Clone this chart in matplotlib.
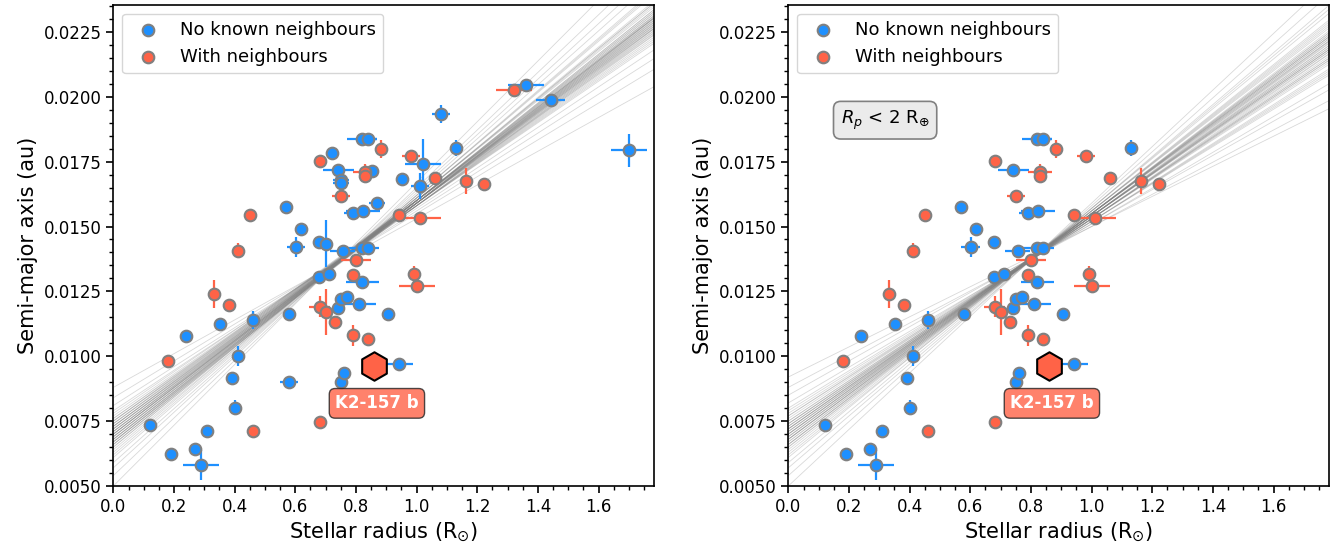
import matplotlib
matplotlib.use("Agg")
import matplotlib.pyplot as plt
import numpy as np
from matplotlib.ticker import MultipleLocator, FormatStrFormatter

# stars without known neighbours: radius, semi-major axis, errors, small planet (Rp < 2 Re)
blue_r = [0.819, 0.841, 0.721, 0.742, 0.852, 0.751, 0.751, 0.870, 0.791, 0.822,
          0.570, 0.620, 0.601, 0.679, 0.701, 0.756, 0.821, 0.841, 0.679, 0.711,
          1.361, 1.442, 1.081, 1.701, 1.131, 1.020, 0.951, 1.011, 0.351, 0.460,
          0.241, 0.580, 0.411, 0.391, 0.580, 0.400, 0.120, 0.309, 0.189, 0.270,
          0.290, 0.752, 0.762, 0.740, 0.752, 0.771, 0.810, 0.821, 0.907, 0.942]
blue_a = [0.01836, 0.01836, 0.01784, 0.01718, 0.01715, 0.01680, 0.01669, 0.01592, 0.01553, 0.01561,
          0.01577, 0.01492, 0.01421, 0.01442, 0.01434, 0.01407, 0.01419, 0.01419, 0.01307, 0.01316,
          0.02046, 0.01987, 0.01935, 0.01794, 0.01802, 0.01742, 0.01682, 0.01655, 0.01123, 0.01140,
          0.01079, 0.01162, 0.01001, 0.00916, 0.00902, 0.00802, 0.00735, 0.00711, 0.00625, 0.00641,
          0.00582, 0.00902, 0.00937, 0.01187, 0.01221, 0.01230, 0.01200, 0.01286, 0.01162, 0.00970]
blue_rerr = [0.05, 0.03, 0, 0.05, 0, 0.027, 0.027, 0.027, 0.03, 0.056,
             0, 0, 0.03, 0, 0, 0.04, 0.056, 0, 0, 0,
             0.06, 0.048, 0.03, 0.06, 0, 0.059, 0, 0.03, 0, 0,
             0, 0, 0, 0, 0.03, 0, 0, 0, 0, 0,
             0.059, 0, 0, 0, 0.02, 0.02, 0.055, 0.055, 0, 0.047]
blue_aerr = [0, 0, 0, 0, 0, 0, 0, 0, 0, 0,
             0, 0, 0.0004, 0, 0.0009, 0, 0, 0, 0, 0,
             0, 0, 0.00035, 0.00064, 0.0003, 0.00095, 0, 0.0005, 0, 0.00035,
             0, 0, 0.0004, 0, 0, 0.0003, 0, 0, 0, 0,
             0.00058, 0, 0, 0, 0, 0, 0, 0, 0, 0]
blue_small = [1, 1, 0, 1, 0, 0, 0, 0, 1, 1,
              1, 1, 1, 1, 0, 1, 1, 1, 1, 1,
              0, 0, 0, 0, 1, 0, 0, 0, 1, 1,
              1, 1, 1, 1, 0, 1, 1, 1, 1, 1,
              1, 1, 1, 1, 1, 1, 1, 1, 1, 1]

# stars with neighbours
red_r = [0.882, 0.680, 0.830, 0.830, 0.751, 0.451, 0.410, 0.800, 0.791, 1.321,
         0.981, 1.061, 1.162, 1.222, 0.942, 1.011, 0.991, 1.002, 0.331, 0.380,
         0.180, 0.460, 0.680, 0.791, 0.841, 0.732, 0.680, 0.701]
red_a = [0.01798, 0.01753, 0.01710, 0.01695, 0.01619, 0.01546, 0.01407, 0.01371, 0.01313, 0.02025,
         0.01772, 0.01687, 0.01676, 0.01663, 0.01546, 0.01533, 0.01316, 0.01272, 0.01240, 0.01197,
         0.00981, 0.00711, 0.00748, 0.01081, 0.01065, 0.01131, 0.01191, 0.01170]
red_rerr = [0, 0, 0.04, 0, 0.03, 0, 0, 0.05, 0, 0.06,
            0.03, 0, 0, 0, 0, 0.07, 0, 0.06, 0, 0,
            0, 0, 0, 0, 0, 0, 0.036, 0]
red_aerr = [0.00035, 0, 0.0003, 0, 0, 0, 0.00028, 0, 0, 0,
            0.0002, 0, 0.0005, 0, 0, 0, 0.0003, 0, 0.00055, 0.00025,
            0, 0.0002, 0, 0.0004, 0, 0, 0.0004, 0.0009]
red_small = [1, 1, 1, 1, 1, 1, 1, 1, 1, 0,
             1, 1, 1, 1, 1, 1, 1, 1, 1, 1,
             1, 1, 1, 1, 1, 1, 1, 1]

# K2-157 b
k2_r = 0.860
k2_a = 0.00963

# linear fit samples (intercept, slope) for all planets
fit_all_b = [0.0088, 0.0084, 0.0081, 0.0079, 0.0078, 0.0077, 0.0076, 0.0075, 0.0075, 0.0074,
             0.0074, 0.0073, 0.0073, 0.0072, 0.0072, 0.0071, 0.0071, 0.0070, 0.0070, 0.0069,
             0.0069, 0.0068, 0.0068, 0.0067, 0.0067, 0.0066, 0.0066, 0.0065, 0.0064, 0.0063,
             0.0062, 0.0061, 0.0059, 0.0057, 0.0054, 0.0050,
             0.0076, 0.0075, 0.0074, 0.0073, 0.0072, 0.0071, 0.0070, 0.0069, 0.0068, 0.0067,
             0.0066, 0.0065, 0.0072, 0.0070, 0.0069, 0.0068, 0.0071, 0.0073, 0.0067, 0.0070]
fit_all_m = [0.0065, 0.0071, 0.0075, 0.0078, 0.0080, 0.0081, 0.0082, 0.0084, 0.0083, 0.0085,
             0.0084, 0.0086, 0.0085, 0.0087, 0.0086, 0.0088, 0.0087, 0.0089, 0.0090, 0.0090,
             0.0091, 0.0092, 0.0091, 0.0093, 0.0094, 0.0095, 0.0094, 0.0096, 0.0097, 0.0099,
             0.0100, 0.0101, 0.0104, 0.0107, 0.0111, 0.0117,
             0.0083, 0.0085, 0.0086, 0.0087, 0.0088, 0.0089, 0.0090, 0.0091, 0.0092, 0.0093,
             0.0094, 0.0096, 0.0087, 0.0089, 0.0090, 0.0091, 0.0088, 0.0086, 0.0092, 0.0090]
# fit samples for Rp < 2 Re only
fit_small_b = [0.0092, 0.0088, 0.0085, 0.0082, 0.0080, 0.0079, 0.0078, 0.0077, 0.0076, 0.0075,
               0.0074, 0.0074, 0.0073, 0.0072, 0.0072, 0.0071, 0.0070, 0.0070, 0.0069, 0.0068,
               0.0068, 0.0067, 0.0066, 0.0066, 0.0065, 0.0064, 0.0063, 0.0062, 0.0061, 0.0059,
               0.0057, 0.0054, 0.0050,
               0.0077, 0.0075, 0.0074, 0.0073, 0.0072, 0.0071, 0.0070, 0.0069, 0.0068, 0.0067,
               0.0066, 0.0065, 0.0071, 0.0070, 0.0069, 0.0073, 0.0068, 0.0072]
fit_small_m = [0.0058, 0.0062, 0.0066, 0.0069, 0.0072, 0.0073, 0.0074, 0.0075, 0.0077, 0.0078,
               0.0079, 0.0080, 0.0080, 0.0082, 0.0081, 0.0083, 0.0084, 0.0085, 0.0085, 0.0087,
               0.0086, 0.0088, 0.0089, 0.0090, 0.0090, 0.0092, 0.0093, 0.0094, 0.0096, 0.0098,
               0.0100, 0.0104, 0.0109,
               0.0076, 0.0078, 0.0079, 0.0081, 0.0082, 0.0083, 0.0084, 0.0086, 0.0087, 0.0088,
               0.0089, 0.0091, 0.0084, 0.0085, 0.0086, 0.0081, 0.0087, 0.0082]

blue_c = '#1E90FF'
red_c = '#FF6347'


def draw_panel(ax, fit_b, fit_m, only_small):
    for b, m in zip(fit_b, fit_m):
        ax.axline((0, b), slope=m, color='grey', lw=0.6, alpha=0.3, zorder=1)

    groups = [(blue_r, blue_a, blue_rerr, blue_aerr, blue_small, blue_c, 'No known neighbours'),
              (red_r, red_a, red_rerr, red_aerr, red_small, red_c, 'With neighbours')]
    for r, a, re, ae, sm, col, lab in groups:
        keep = np.array(sm, dtype=bool) if only_small else np.ones(len(r), dtype=bool)
        r = np.array(r)[keep]
        a = np.array(a)[keep]
        re = np.array(re)[keep]
        ae = np.array(ae)[keep]
        ax.errorbar(r, a, xerr=re, yerr=ae, fmt='none', ecolor=col, elinewidth=1.6,
                    capsize=0, zorder=2)
        ax.scatter(r, a, s=70, color=col, edgecolor='grey', linewidth=1.5, zorder=3, label=lab)

    ax.scatter([k2_r], [k2_a], marker='h', s=420, color=red_c, edgecolor='black',
               linewidth=1.5, zorder=4)
    ax.annotate('K2-157 b', xy=(k2_r, k2_a), xytext=(2, -27), textcoords='offset points',
                ha='center', va='center', fontsize=12, fontweight='bold', color='white',
                bbox=dict(boxstyle='round,pad=0.35', fc=red_c, alpha=0.8, ec='#222222', lw=1),
                zorder=5)

    ax.set_xlim(0, 1.783)
    ax.set_ylim(0.005, 0.02355)
    ax.xaxis.set_major_locator(MultipleLocator(0.2))
    ax.xaxis.set_minor_locator(MultipleLocator(0.05))
    ax.xaxis.set_major_formatter(FormatStrFormatter('%.1f'))
    ax.yaxis.set_major_locator(MultipleLocator(0.0025))
    ax.yaxis.set_minor_locator(MultipleLocator(0.0005))
    ax.yaxis.set_major_formatter(FormatStrFormatter('%.4f'))
    ax.tick_params(which='major', labelsize=12, length=5, width=1.2)
    ax.tick_params(which='minor', length=3, width=1)
    for sp in ax.spines.values():
        sp.set_linewidth(1.2)
    ax.set_xlabel(r'Stellar radius (R$_{\odot}$)', fontsize=15)
    ax.set_ylabel('Semi-major axis (au)', fontsize=15)
    ax.legend(loc='upper left', fontsize=13)


fig = plt.figure(figsize=(13.43, 5.51), dpi=100)
ax1 = fig.add_axes([0.0844, 0.118, 0.4026, 0.8735])
ax2 = fig.add_axes([0.587, 0.118, 0.4026, 0.8735])

draw_panel(ax1, fit_all_b, fit_all_m, False)
draw_panel(ax2, fit_small_b, fit_small_m, True)

ax2.text(0.179, 0.76, r'$R_p$ < 2 R$_{\oplus}$', transform=ax2.transAxes, fontsize=13,
         ha='center', va='center',
         bbox=dict(boxstyle='round,pad=0.4', fc='#EBEBEB', ec='grey', lw=1.2))

fig.savefig('out.png', dpi=100)
